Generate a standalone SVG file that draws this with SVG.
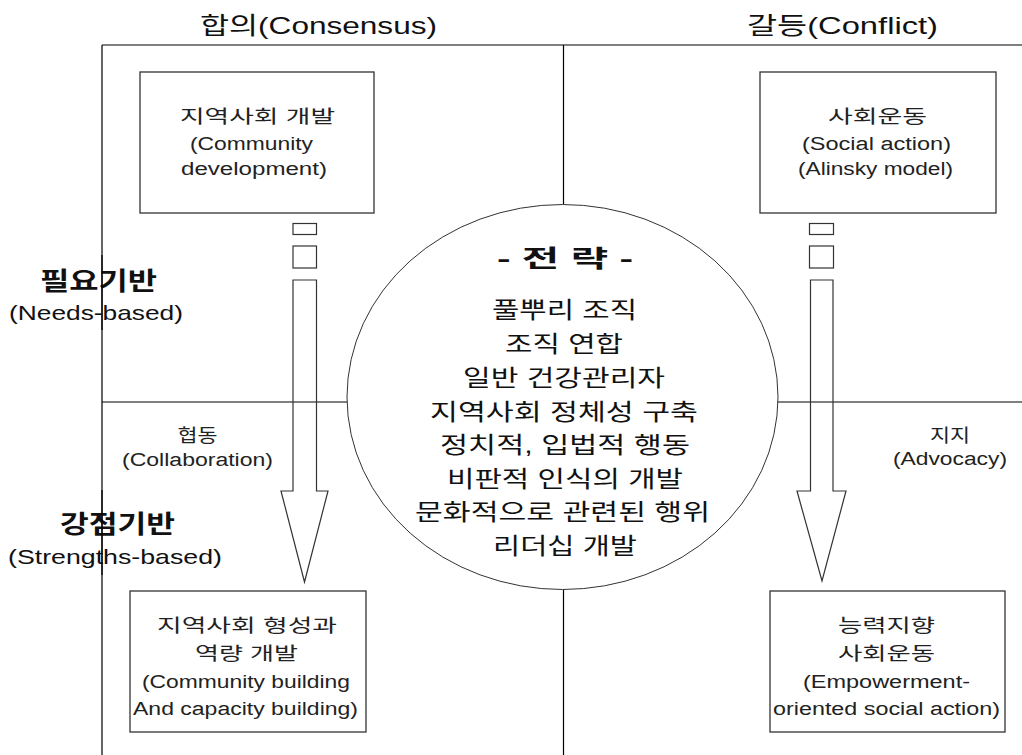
<svg xmlns="http://www.w3.org/2000/svg" width="1022" height="755" viewBox="0 0 1022 755">
<style>
text{font-family:"Liberation Sans","Noto Sans CJK KR",sans-serif;fill:#111;text-anchor:middle}
.hd{font-size:24px}
.side{font-size:25px;font-weight:bold}
.sidee{font-size:21px}
.bx{font-size:18px;fill:#222}
.ct{font-size:23px}
.ctb{font-size:24px;font-weight:bold}
.frame{stroke:#000;stroke-width:1.2;fill:none}
.box{stroke:#333;stroke-width:1.3;fill:#fff}
.arr{stroke:#333;stroke-width:1.2;fill:none}
</style>
<rect width="1022" height="755" fill="#fff"/>
<g id="frame">
<path class="frame" d="M102,45H1022M102,45V755M563.5,45V205M102,402H348M777,402H1022M563.5,589V755"/>
</g>
<g id="headers">
<text class="hd" x="318.5" y="34" textLength="237" lengthAdjust="spacingAndGlyphs">합의(Consensus)</text>
<text class="hd" x="842.5" y="34" textLength="191" lengthAdjust="spacingAndGlyphs">갈등(Conflict)</text>
</g>
<g id="side-needs">
<text class="side" x="98.5" y="290" textLength="117" lengthAdjust="spacingAndGlyphs">필요기반</text>
<text class="sidee" x="96" y="320" textLength="174" lengthAdjust="spacingAndGlyphs">(Needs-based)</text>
</g>
<g id="side-strengths">
<text class="side" x="117.5" y="533" textLength="115" lengthAdjust="spacingAndGlyphs">강점기반</text>
<text class="sidee" x="115" y="564" textLength="214" lengthAdjust="spacingAndGlyphs">(Strengths-based)</text>
</g>
<g id="redraw-frame-left">
<path class="frame" d="M102,255V330M102,490V575"/>
</g>
<g id="connectors">
<rect class="arr" x="293" y="223.5" width="23.5" height="11"/>
<rect class="arr" x="293" y="246" width="23.5" height="22"/>
<path class="arr" d="M293,280H316.5V491H328L304.5,582L281,491H293Z"/>
<rect class="arr" x="809.5" y="223.5" width="24" height="11"/>
<rect class="arr" x="809.5" y="246" width="24" height="22"/>
<path class="arr" d="M810.5,280H833V491H846L822,581L797,491H810.5Z"/>
</g>
<g id="label-collab">
<text class="bx" x="197.5" y="442" textLength="40" lengthAdjust="spacingAndGlyphs">협동</text>
<text class="bx" x="197.5" y="466" textLength="151" lengthAdjust="spacingAndGlyphs">(Collaboration)</text>
</g>
<g id="label-advocacy">
<text class="bx" x="950" y="442" textLength="40" lengthAdjust="spacingAndGlyphs">지지</text>
<text class="bx" x="950" y="465" textLength="114" lengthAdjust="spacingAndGlyphs">(Advocacy)</text>
</g>
<g id="node-community-development">
<rect class="box" x="140" y="72" width="234" height="141"/>
<text class="bx" x="257.5" y="123" textLength="155" lengthAdjust="spacingAndGlyphs">지역사회 개발</text>
<text class="bx" x="251.5" y="150" textLength="123" lengthAdjust="spacingAndGlyphs">(Community</text>
<text class="bx" x="254" y="175" textLength="146" lengthAdjust="spacingAndGlyphs">development)</text>
</g>
<g id="node-social-action">
<rect class="box" x="760" y="72" width="236" height="141"/>
<text class="bx" x="877.5" y="123" textLength="99" lengthAdjust="spacingAndGlyphs">사회운동</text>
<text class="bx" x="876.5" y="150" textLength="149" lengthAdjust="spacingAndGlyphs">(Social action)</text>
<text class="bx" x="875.5" y="175" textLength="155" lengthAdjust="spacingAndGlyphs">(Alinsky model)</text>
</g>
<g id="node-community-building">
<rect class="box" x="130" y="591" width="236" height="141"/>
<text class="bx" x="247" y="632" textLength="180" lengthAdjust="spacingAndGlyphs">지역사회 형성과</text>
<text class="bx" x="246.5" y="660" textLength="103" lengthAdjust="spacingAndGlyphs">역량 개발</text>
<text class="bx" x="246" y="688" textLength="208" lengthAdjust="spacingAndGlyphs">(Community building</text>
<text class="bx" x="245.5" y="715" textLength="225" lengthAdjust="spacingAndGlyphs">And capacity building)</text>
</g>
<g id="node-empowerment">
<rect class="box" x="770" y="591" width="235" height="141"/>
<text class="bx" x="886.5" y="632" textLength="97" lengthAdjust="spacingAndGlyphs">능력지향</text>
<text class="bx" x="886.5" y="660" textLength="97" lengthAdjust="spacingAndGlyphs">사회운동</text>
<text class="bx" x="886.5" y="688" textLength="167" lengthAdjust="spacingAndGlyphs">(Empowerment-</text>
<text class="bx" x="886.5" y="715" textLength="227" lengthAdjust="spacingAndGlyphs">oriented social action)</text>
</g>
<g id="node-strategy">
<ellipse cx="562.5" cy="397" rx="215.5" ry="192.5" fill="#fff" stroke="#333" stroke-width="1"/>
<text class="ctb" x="565" y="267" textLength="136" lengthAdjust="spacingAndGlyphs">- 전  략 -</text>
<text class="ct" x="564.5" y="318" textLength="145" lengthAdjust="spacingAndGlyphs">풀뿌리 조직</text>
<text class="ct" x="564" y="352" textLength="118" lengthAdjust="spacingAndGlyphs">조직 연합</text>
<text class="ct" x="564" y="386" textLength="202" lengthAdjust="spacingAndGlyphs">일반 건강관리자</text>
<text class="ct" x="564" y="420" textLength="268" lengthAdjust="spacingAndGlyphs">지역사회 정체성 구축</text>
<text class="ct" x="565" y="453" textLength="250" lengthAdjust="spacingAndGlyphs">정치적, 입법적 행동</text>
<text class="ct" x="565" y="487" textLength="236" lengthAdjust="spacingAndGlyphs">비판적 인식의 개발</text>
<text class="ct" x="562.5" y="520" textLength="295" lengthAdjust="spacingAndGlyphs">문화적으로 관련된 행위</text>
<text class="ct" x="565" y="554" textLength="144" lengthAdjust="spacingAndGlyphs">리더십 개발</text>
</g>
</svg>
